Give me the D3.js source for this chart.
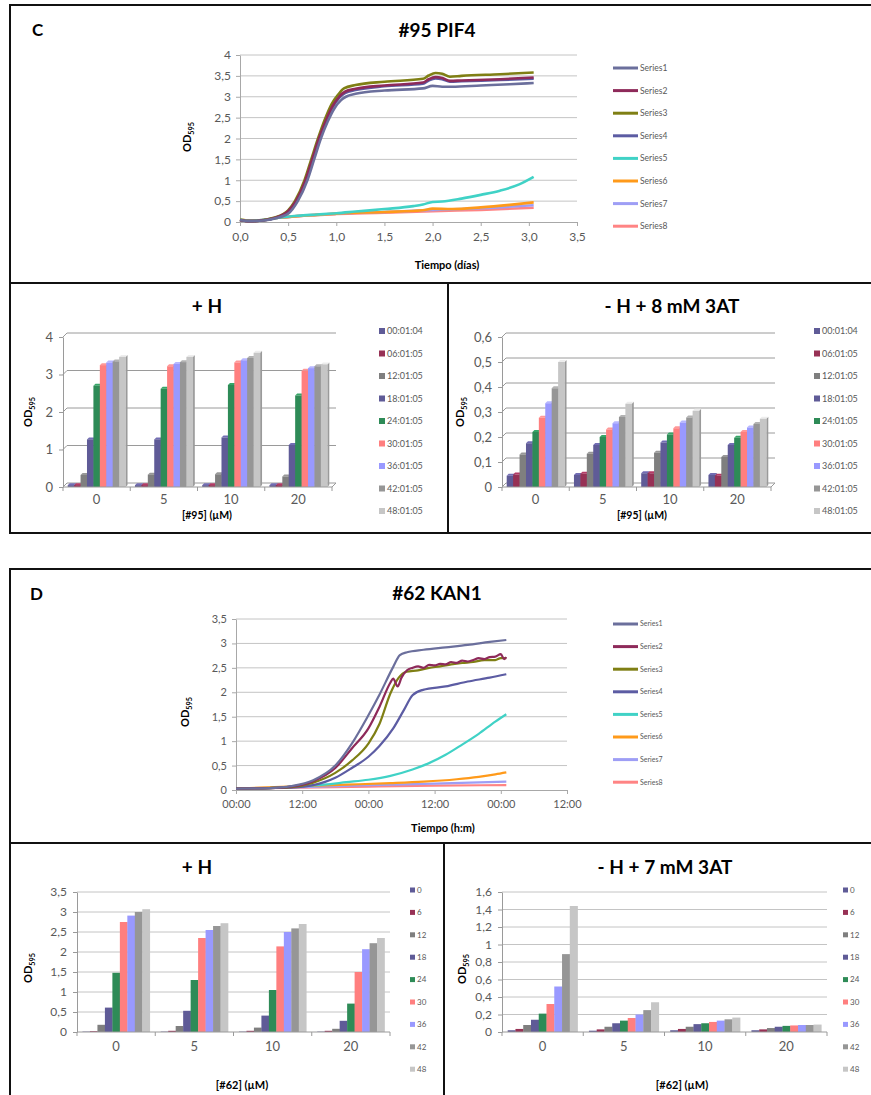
<!DOCTYPE html>
<html lang="es">
<head>
<meta charset="utf-8">
<title>#95 PIF4 / #62 KAN1</title>
<script src="https://cdn.jsdelivr.net/npm/d3@7"></script>
<style>
  body { margin: 0; background: #fff; }
  svg { display: block; font-family: Lato, "Open Sans", sans-serif; }
</style>
</head>
<body>
<svg id="fig" width="871" height="1095"></svg>
<script>
// ---------- data ----------
var seriesNames = ["Series1", "Series2", "Series3", "Series4", "Series5", "Series6", "Series7", "Series8"];

// panel C growth curves, [days, OD595]
var pif4S1 = [[0,0.05],[0.1,0.02],[0.2,0.03],[0.35,0.08],[0.5,0.2],[0.6,0.5],[0.7,1.0],[0.77,1.5],[0.84,2.0],[0.91,2.4],[0.98,2.72],[1.05,2.92],[1.1,3.0],[1.2,3.07],[1.5,3.15],[1.9,3.2],[2.0,3.26],[2.1,3.24],[2.2,3.24],[2.5,3.27],[2.8,3.3],[3.05,3.33]];
var pif4S2 = [[0,0.05],[0.1,0.02],[0.2,0.03],[0.35,0.09],[0.5,0.26],[0.58,0.5],[0.68,1.0],[0.75,1.5],[0.82,2.0],[0.89,2.42],[0.96,2.77],[1.03,3.0],[1.09,3.12],[1.2,3.19],[1.5,3.27],[1.9,3.34],[1.96,3.42],[2.03,3.47],[2.1,3.45],[2.18,3.38],[2.3,3.39],[2.7,3.42],[3.05,3.46]];
var pif4S3 = [[0,0.05],[0.1,0.02],[0.2,0.03],[0.35,0.1],[0.5,0.28],[0.57,0.5],[0.67,1.0],[0.74,1.5],[0.81,2.0],[0.88,2.45],[0.95,2.82],[1.02,3.05],[1.08,3.2],[1.2,3.28],[1.5,3.36],[1.9,3.43],[1.96,3.51],[2.03,3.57],[2.1,3.55],[2.18,3.48],[2.3,3.5],[2.7,3.54],[3.05,3.58]];
var pif4S4 = [[0,0.05],[0.1,0.02],[0.2,0.03],[0.35,0.09],[0.5,0.25],[0.58,0.49],[0.68,0.98],[0.75,1.48],[0.82,1.97],[0.89,2.4],[0.96,2.74],[1.03,2.97],[1.09,3.09],[1.2,3.16],[1.5,3.25],[1.9,3.31],[1.96,3.39],[2.03,3.44],[2.1,3.42],[2.18,3.36],[2.3,3.37],[2.7,3.4],[3.05,3.43]];
var pif4S5 = [[0,0.06],[0.1,0.03],[0.2,0.04],[0.4,0.1],[0.6,0.15],[0.8,0.18],[1.0,0.21],[1.2,0.25],[1.5,0.31],[1.8,0.38],[1.9,0.42],[2.0,0.48],[2.1,0.49],[2.3,0.56],[2.5,0.65],[2.7,0.75],[2.9,0.9],[3.05,1.08]];
var pif4S6 = [[0,0.07],[0.1,0.03],[0.2,0.04],[0.4,0.1],[0.6,0.14],[0.8,0.17],[1.0,0.2],[1.5,0.24],[1.9,0.28],[2.0,0.32],[2.2,0.31],[2.5,0.35],[2.8,0.41],[3.05,0.47]];
var pif4S7 = [[0,0.05],[0.1,0.03],[0.2,0.04],[0.4,0.1],[0.6,0.14],[0.8,0.17],[1.0,0.2],[1.5,0.24],[2.0,0.29],[2.5,0.33],[3.05,0.4]];
var pif4S8 = [[0,0.05],[0.1,0.02],[0.2,0.04],[0.4,0.1],[0.6,0.14],[0.8,0.17],[1.0,0.19],[1.5,0.22],[2.0,0.26],[2.5,0.29],[3.05,0.34]];

// panel D growth curves, [hours, OD595]
var kan1S1 = [[0,0.03],[6,0.04],[10,0.08],[14,0.2],[18,0.5],[21,0.95],[24,1.53],[26,1.95],[28.5,2.52],[29.7,2.76],[31,2.82],[34,2.87],[38,2.92],[42,2.97],[46,3.03],[49,3.07]];
var kan1S2 = [[0,0.03],[6,0.04],[10,0.07],[14,0.18],[18,0.45],[21,0.85],[24,1.26],[26,1.7],[28,2.2],[28.5,2.28],[29.3,2.12],[30,2.3],[31,2.45],[32,2.5],[33,2.53],[34,2.5],[35,2.56],[36,2.55],[37,2.58],[38,2.57],[39,2.62],[40,2.6],[41,2.65],[42,2.63],[43,2.66],[44,2.7],[45,2.68],[46,2.72],[47,2.73],[48,2.78],[48.6,2.68],[49,2.72]];
var kan1S3 = [[0,0.03],[6,0.04],[10,0.06],[14,0.15],[18,0.35],[21,0.6],[24,0.95],[26,1.35],[28,1.98],[29.5,2.3],[30.9,2.42],[33,2.45],[35,2.5],[37,2.53],[39,2.57],[41,2.6],[43,2.62],[45,2.66],[47,2.66],[48,2.7],[49,2.7]];
var kan1S4 = [[0,0.03],[6,0.04],[10,0.05],[14,0.1],[18,0.25],[21,0.45],[24,0.68],[26,0.9],[28.5,1.26],[30.5,1.65],[32,1.94],[33.9,2.05],[38,2.12],[42,2.22],[46,2.3],[49,2.37]];
var kan1S5 = [[0,0.03],[8,0.05],[12,0.08],[16,0.11],[20,0.16],[24,0.21],[28,0.29],[32,0.42],[35,0.55],[38,0.72],[41,0.93],[44,1.15],[47,1.4],[49,1.55]];
var kan1S6 = [[0,0.03],[12,0.08],[20,0.11],[28,0.14],[34,0.17],[40,0.22],[44,0.27],[47,0.32],[49,0.36]];
var kan1S7 = [[0,0.03],[12,0.06],[24,0.1],[36,0.13],[49,0.17]];
var kan1S8 = [[0,0.03],[12,0.05],[24,0.07],[36,0.09],[49,0.1]];

// tick values
var pif4YTicks = [0, 0.5, 1, 1.5, 2, 2.5, 3, 3.5, 4];
var pif4XTicks = [0, 0.5, 1, 1.5, 2, 2.5, 3, 3.5];
var kan1YTicks = [0, 0.5, 1, 1.5, 2, 2.5, 3, 3.5];
var kan1XTicks = [0, 12, 24, 36, 48, 60];

// bar charts: rows = concentration, columns = time point
var pif4Conc = ["0", "5", "10", "20"];
var pif4Times = ["00:01:04", "06:01:05", "12:01:05", "18:01:05", "24:01:05", "30:01:05", "36:01:05", "42:01:05", "48:01:05"];
var pif4H = [
  [0.05, 0.05, 0.32, 1.27, 2.70, 3.25, 3.32, 3.35, 3.47],
  [0.05, 0.05, 0.33, 1.27, 2.62, 3.22, 3.28, 3.33, 3.47],
  [0.05, 0.05, 0.34, 1.32, 2.72, 3.32, 3.38, 3.44, 3.58],
  [0.05, 0.05, 0.28, 1.12, 2.44, 3.10, 3.17, 3.22, 3.27]
];
var pif4AT = [
  [0.045, 0.05, 0.13, 0.175, 0.22, 0.277, 0.335, 0.395, 0.50],
  [0.048, 0.053, 0.133, 0.168, 0.20, 0.23, 0.255, 0.28, 0.333],
  [0.055, 0.055, 0.137, 0.178, 0.21, 0.235, 0.258, 0.278, 0.305],
  [0.048, 0.045, 0.12, 0.168, 0.197, 0.22, 0.238, 0.252, 0.273]
];
var pif4HTicks = [0, 1, 2, 3, 4];
var pif4ATTicks = [0, 0.1, 0.2, 0.3, 0.4, 0.5, 0.6];

var kan1Conc = ["0", "5", "10", "20"];
var kan1Times = ["0", "6", "12", "18", "24", "30", "36", "42", "48"];
var kan1H = [
  [0.01, 0.02, 0.18, 0.61, 1.48, 2.75, 2.91, 3.0, 3.07],
  [0.01, 0.03, 0.15, 0.53, 1.30, 2.35, 2.55, 2.65, 2.72],
  [0.01, 0.03, 0.11, 0.41, 1.05, 2.14, 2.50, 2.59, 2.70],
  [0.01, 0.03, 0.08, 0.28, 0.71, 1.50, 2.07, 2.22, 2.35]
];
var kan1AT = [
  [0.02, 0.035, 0.08, 0.14, 0.21, 0.32, 0.52, 0.89, 1.44],
  [0.015, 0.03, 0.06, 0.10, 0.13, 0.16, 0.20, 0.25, 0.34],
  [0.02, 0.035, 0.06, 0.09, 0.10, 0.115, 0.13, 0.145, 0.165],
  [0.02, 0.03, 0.045, 0.06, 0.07, 0.075, 0.08, 0.08, 0.085]
];
var kan1HTicks = [0, 0.5, 1, 1.5, 2, 2.5, 3, 3.5];
var kan1ATTicks = [0, 0.2, 0.4, 0.6, 0.8, 1, 1.2, 1.4, 1.6];

// palettes
var lineColors = ["#6B6F9C", "#8E2A5A", "#7F7F14", "#5C5CA3", "#40D2C6", "#FF9A1A", "#9E9EF5", "#FF8484"];
var barColors = ["#5F5B97", "#973155", "#7F7F7F", "#5F5B97", "#2E8B57", "#FF7F7F", "#9999FF", "#969696", "#C6C6C6"];

// ---------- helpers ----------
var svg = d3.select("#fig");
var tickColor = "#595959";

function commaNum(v) { return String(+v.toFixed(2)).replace(".", ","); }

function styleAxis(sel, size, lineColor) {
  sel.select(".domain").attr("stroke", lineColor);
  sel.selectAll(".tick line").attr("stroke", lineColor);
  sel.selectAll(".tick text").attr("fill", tickColor).attr("font-size", size)
    .attr("font-family", "Lato, 'Open Sans', sans-serif");
}

function odLabel(x, y, size) {
  var t = svg.append("text")
    .attr("transform", "translate(" + x + "," + y + ") rotate(-90)")
    .attr("text-anchor", "middle").attr("font-weight", "bold")
    .attr("font-size", size).attr("dy", "0.35em");
  t.append("tspan").text("OD");
  t.append("tspan").attr("font-size", size * 0.66).attr("dy", size * 0.25).text("595");
}

function label(x, y, txt, size, anchor) {
  svg.append("text").attr("x", x).attr("y", y)
    .attr("text-anchor", anchor || "middle").attr("font-weight", "bold")
    .attr("font-size", size).text(txt);
}

function drawLines(o) {
  var g = svg.append("g");
  var x = d3.scaleLinear().domain(o.xDomain).range([o.left, o.right]);
  var y = d3.scaleLinear().domain(o.yDomain).range([o.bottom, o.top]);

  g.append("g").selectAll("line").data(o.yTicks.slice(1)).join("line")
    .attr("x1", o.left).attr("x2", o.right)
    .attr("y1", function(d) { return y(d); }).attr("y2", function(d) { return y(d); })
    .attr("stroke", "#c4c4c4");

  g.append("g").attr("transform", "translate(" + o.left + ",0)")
    .call(d3.axisLeft(y).tickValues(o.yTicks).tickSize(4).tickSizeOuter(0).tickPadding(5).tickFormat(commaNum))
    .call(styleAxis, o.font, "#a8a8a8");
  g.append("g").attr("transform", "translate(0," + o.bottom + ")")
    .call(d3.axisBottom(x).tickValues(o.xTicks).tickSize(4).tickSizeOuter(0).tickPadding(6).tickFormat(o.xFormat))
    .call(styleAxis, o.font, "#a8a8a8");

  var line = d3.line().x(function(d) { return x(d[0]); }).y(function(d) { return y(d[1]); })
    .curve(d3.curveMonotoneX);
  // draw back to front so the first series sits on top like the original
  var order = d3.range(o.series.length).reverse();
  g.append("g").selectAll("path").data(order).join("path")
    .attr("d", function(i) { return line(o.series[i]); })
    .attr("fill", "none").attr("stroke", function(i) { return lineColors[i]; })
    .attr("stroke-width", o.width).attr("stroke-linejoin", "round");

  var lg = g.append("g").selectAll("g").data(seriesNames).join("g")
    .attr("transform", function(d, i) { return "translate(" + o.legend.x + "," + (o.legend.y + i * o.legend.step) + ")"; });
  lg.append("line").attr("x1", 0).attr("x2", 25)
    .attr("stroke", function(d, i) { return lineColors[i]; }).attr("stroke-width", 3);
  lg.append("text").attr("x", 27).attr("dy", "0.35em").attr("font-size", o.legend.font)
    .attr("fill", tickColor).text(function(d) { return d; });
}

function drawBars(o) {
  var g = svg.append("g");
  var d = o.depth, bd = o.depth ? 2 : 0;
  var x = d3.scaleBand().domain(o.cats).range([o.left, o.right]).paddingInner(0.14).paddingOuter(0.07);
  var xi = d3.scaleBand().domain(o.keys).range([0, x.bandwidth()]);
  var y = d3.scaleLinear().domain([0, o.yTicks[o.yTicks.length - 1]]).range([o.bottom, o.top]);

  // back wall gridlines
  g.append("g").selectAll("path").data(d ? o.yTicks : o.yTicks.slice(1)).join("path")
    .attr("d", function(v) { return "M" + o.left + "," + y(v) + "l" + d + "," + (-d) + "H" + (o.right + d); })
    .attr("fill", "none").attr("stroke", o.gridColor);

  g.append("g").attr("transform", "translate(" + o.left + ",0)")
    .call(d3.axisLeft(y).tickValues(o.yTicks).tickSize(4).tickSizeOuter(0).tickPadding(6).tickFormat(commaNum))
    .call(styleAxis, o.font, "#9a9a9a");

  // bars
  var rows = o.values.map(function(v, i) { return { c: o.cats[i], v: v }; });
  var grp = g.append("g").selectAll("g").data(rows).join("g")
    .attr("transform", function(r) { return "translate(" + x(r.c) + ",0)"; });
  var cells = function(r) { return r.v.map(function(v, k) { return { v: v, k: k }; }); };
  var bw = xi.bandwidth();
  if (bd) {
    grp.selectAll("path.side").data(cells).join("path").attr("class", "side")
      .attr("d", function(c) {
        var bx = xi(o.keys[c.k]) + bw;
        return "M" + bx + "," + y(c.v) + "l" + bd + "," + (-bd) + "V" + (y(0) - bd) + "l" + (-bd) + "," + bd + "Z";
      })
      .attr("fill", function(c) { return d3.color(barColors[c.k]).darker(0.7); });
    grp.selectAll("path.top").data(cells).join("path").attr("class", "top")
      .attr("d", function(c) {
        var bx = xi(o.keys[c.k]);
        return "M" + bx + "," + y(c.v) + "l" + bd + "," + (-bd) + "h" + bw + "l" + (-bd) + "," + bd + "Z";
      })
      .attr("fill", function(c) { return d3.color(barColors[c.k]).brighter(0.5); });
  }
  grp.selectAll("rect").data(cells).join("rect")
    .attr("x", function(c) { return xi(o.keys[c.k]); })
    .attr("y", function(c) { return y(c.v); })
    .attr("width", bw + 0.3)
    .attr("height", function(c) { return y(0) - y(c.v); })
    .attr("fill", function(c) { return barColors[c.k]; });

  // floor / category axis
  var xa = g.append("g").attr("transform", "translate(0," + o.bottom + ")")
    .call(d3.axisBottom(x).tickSize(0).tickPadding(o.catPad))
    .call(styleAxis, o.catFont, "#9a9a9a");
  xa.select(".domain").remove();
  var bounds = d3.range(o.cats.length + 1).map(function(i) { return o.left + i * x.step(); });
  g.append("path")
    .attr("d", "M" + o.left + "," + o.bottom + "H" + o.right + "l" + d + "," + (-d))
    .attr("fill", "none").attr("stroke", "#9a9a9a");
  g.append("g").selectAll("line").data(bounds).join("line")
    .attr("x1", function(b) { return b; }).attr("x2", function(b) { return b; })
    .attr("y1", o.bottom).attr("y2", o.bottom + 4).attr("stroke", "#9a9a9a");

  // legend
  var lg = g.append("g").selectAll("g").data(o.keys).join("g")
    .attr("transform", function(k, i) { return "translate(" + o.legend.x + "," + (o.legend.y + i * o.legend.step) + ")"; });
  lg.append("rect").attr("x", 0).attr("y", -o.legend.box / 2)
    .attr("width", o.legend.box).attr("height", o.legend.box)
    .attr("fill", function(k, i) { return barColors[i]; });
  lg.append("text").attr("x", o.legend.box + 2).attr("dy", "0.35em")
    .attr("font-size", o.legend.font).attr("fill", tickColor).text(function(k) { return k; });
}

// ---------- frames ----------
var frames = svg.append("g").attr("fill", "none").attr("stroke", "#111").attr("stroke-width", 2);
frames.append("rect").attr("x", 10).attr("y", 5).attr("width", 866).attr("height", 528);
frames.append("line").attr("x1", 10).attr("x2", 876).attr("y1", 283).attr("y2", 283);
frames.append("line").attr("x1", 448).attr("x2", 448).attr("y1", 283).attr("y2", 533);
frames.append("rect").attr("x", 10).attr("y", 569).attr("width", 866).attr("height", 540);
frames.append("line").attr("x1", 10).attr("x2", 876).attr("y1", 843).attr("y2", 843);
frames.append("line").attr("x1", 444).attr("x2", 444).attr("y1", 843).attr("y2", 1100);

// ---------- panel C ----------
label(32, 36, "C", 17, "start");
label(437, 37, "#95 PIF4", 19);
drawLines({
  left: 240, right: 577, top: 55, bottom: 222,
  xDomain: [0, 3.5], yDomain: [0, 4],
  xTicks: pif4XTicks, yTicks: pif4YTicks,
  xFormat: function(v) { return v.toFixed(1).replace(".", ","); },
  series: [pif4S1, pif4S2, pif4S3, pif4S4, pif4S5, pif4S6, pif4S7, pif4S8],
  width: 2.6, font: 12,
  legend: { x: 613, y: 68, step: 22.6, font: 8.5 }
});
odLabel(187, 137, 11);
label(447, 269, "Tiempo (días)", 11);

label(207, 313, "+ H", 19);
drawBars({
  left: 63, right: 332, top: 337, bottom: 487, depth: 4,
  cats: pif4Conc, keys: pif4Times, values: pif4H, yTicks: pif4HTicks,
  gridColor: "#9a9a9a", font: 13, catFont: 13, catPad: 8,
  legend: { x: 379, y: 331, step: 22.5, box: 6, font: 9 }
});
odLabel(28, 412, 11);
label(207, 519, "[#95] (µM)", 10.5);

label(672, 313, "- H + 8 mM 3AT", 19);
drawBars({
  left: 502, right: 771, top: 337, bottom: 487, depth: 4,
  cats: pif4Conc, keys: pif4Times, values: pif4AT, yTicks: pif4ATTicks,
  gridColor: "#9a9a9a", font: 13, catFont: 13, catPad: 8,
  legend: { x: 814, y: 331, step: 22.5, box: 6, font: 9 }
});
odLabel(460, 412, 11);
label(642, 519, "[#95] (µM)", 10.5);

// ---------- panel D ----------
label(30, 600, "D", 17, "start");
label(437, 600, "#62 KAN1", 19);
drawLines({
  left: 236, right: 567, top: 619, bottom: 790,
  xDomain: [0, 60], yDomain: [0, 3.5],
  xTicks: kan1XTicks, yTicks: kan1YTicks,
  xFormat: function(v) { return d3.format("02d")(v % 24) + ":00"; },
  series: [kan1S1, kan1S2, kan1S3, kan1S4, kan1S5, kan1S6, kan1S7, kan1S8],
  width: 2.2, font: 11,
  legend: { x: 613, y: 624, step: 22.6, font: 7 }
});
odLabel(185, 712, 11);
label(443, 832, "Tiempo (h:m)", 11);

label(197, 874, "+ H", 19);
drawBars({
  left: 77, right: 390, top: 892, bottom: 1032, depth: 0,
  cats: kan1Conc, keys: kan1Times, values: kan1H, yTicks: kan1HTicks,
  gridColor: "#c4c4c4", font: 12, catFont: 13, catPad: 10,
  legend: { x: 410, y: 890, step: 22.4, box: 5, font: 8 }
});
odLabel(28, 968, 11);
label(242, 1089, "[#62] (µM)", 11);

label(665, 874, "- H + 7 mM 3AT", 19);
drawBars({
  left: 502, right: 827, top: 892, bottom: 1032, depth: 0,
  cats: kan1Conc, keys: kan1Times, values: kan1AT, yTicks: kan1ATTicks,
  gridColor: "#c4c4c4", font: 12, catFont: 13, catPad: 10,
  legend: { x: 843, y: 890, step: 22.4, box: 5, font: 8 }
});
odLabel(462, 969, 11);
label(682, 1089, "[#62] (µM)", 11);
</script>
</body>
</html>
